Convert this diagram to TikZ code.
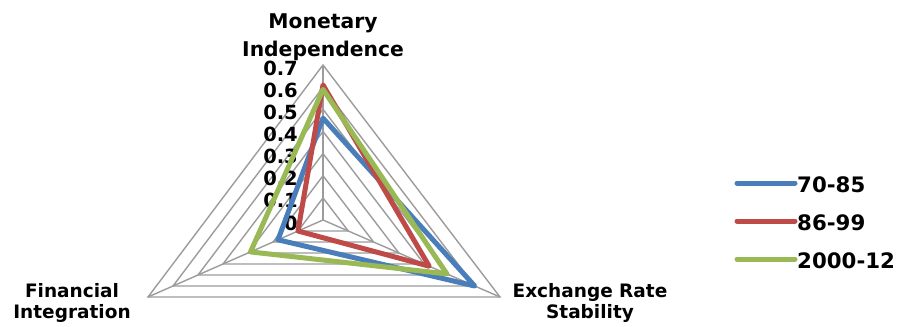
\documentclass[tikz,border=0pt]{standalone}
\usepackage{fontspec}
\setmainfont{DejaVu Sans}
\usetikzlibrary{calc}
\definecolor{ringgray}{HTML}{9C9C9C}
\definecolor{sblue}{HTML}{4A7EBB}
\definecolor{sred}{HTML}{BE4B48}
\definecolor{sgreen}{HTML}{98B954}
\begin{document}
\begin{tikzpicture}[x=1pt,y=-1pt,
  ring/.style={draw=ringgray, line width=1.4pt, line join=miter},
  serline/.style={line width=5pt, line join=round, line cap=round},
  axlabel/.style={font=\fontsize{18.5}{20}\selectfont\bfseries, anchor=base, inner sep=0pt},
  titlelabel/.style={font=\fontsize{20.3}{22}\selectfont\bfseries, anchor=base, inner sep=0pt},
  ticklabel/.style={font=\fontsize{19.5}{21}\selectfont\bfseries, anchor=east, inner sep=0pt},
  legtext/.style={font=\fontsize{21.3}{23}\selectfont\bfseries, anchor=west, inner sep=0pt}]
\useasboundingbox (0,0) rectangle (898,327);
\fill[white] (0,0) rectangle (898,327);
% axes geometry
\coordinate (C) at (323,220);
\coordinate (T) at (323,65);
\coordinate (L) at (148,297);
\coordinate (R) at (500,297);
% rings
\foreach \k in {1,...,7}{
  \draw[ring] ($(C)!{\k/7}!(T)$) -- ($(C)!{\k/7}!(R)$) -- ($(C)!{\k/7}!(L)$) -- cycle;
}
\draw[ring] (C) -- (T);
\draw[ring] (C) -- (L);
\draw[ring] (C) -- (R);
% tick labels
\foreach \k/\t in {0/0,1/0.1,2/0.2,3/0.3,4/0.4,5/0.5,6/0.6,7/0.7}{
  \node[ticklabel] (tick\k) at (298,{223-\k*22.14}) {\t};
}
% series points
\coordinate (bT) at ($(C)!{0.46/0.7}!(T)$);
\coordinate (bR) at ($(C)!{0.60/0.7}!(R)$);
\coordinate (bL) at ($(C)!{0.18/0.7}!(L)$);
\coordinate (rT) at ($(C)!{0.61/0.7}!(T)$);
\coordinate (rR) at ($(C)!{0.42/0.7}!(R)$);
\coordinate (rL) at ($(C)!{0.10/0.7}!(L)$);
\coordinate (gT) at ($(C)!{0.59/0.7}!(T)$);
\coordinate (gR) at ($(C)!{0.49/0.7}!(R)$);
\coordinate (gL) at ($(C)!{0.29/0.7}!(L)$);
\draw[serline, sblue] (bT) -- (bR) -- (bL) -- cycle;
\draw[serline, sred] (rT) -- (rR) -- (rL) -- cycle;
\draw[serline, sgreen] (gT) -- (gR) -- (gL) -- cycle;
% axis labels
\node[titlelabel] (mi1) at (323,28) {Monetary};
\node[titlelabel] (mi2) at (323,56) {Independence};
\node[axlabel] (fi1) at (72,297) {Financial};
\node[axlabel] (fi2) at (72,318) {Integration};
\node[axlabel] (er1) at (590,297) {Exchange Rate};
\node[axlabel] (er2) at (590,318) {Stability};
% legend
\coordinate (l1a) at (737,183); \coordinate (l1b) at (795,183);
\coordinate (l2a) at (737,221); \coordinate (l2b) at (795,221);
\coordinate (l3a) at (737,259); \coordinate (l3b) at (795,259);
\draw[serline, sblue] (l1a) -- (l1b);
\draw[serline, sred] (l2a) -- (l2b);
\draw[serline, sgreen] (l3a) -- (l3b);
\node[legtext] (lt1) at (797,185) {70-85};
\node[legtext] (lt2) at (797,223) {86-99};
\node[legtext] (lt3) at (797,261) {2000-12};
\end{tikzpicture}
\end{document}
